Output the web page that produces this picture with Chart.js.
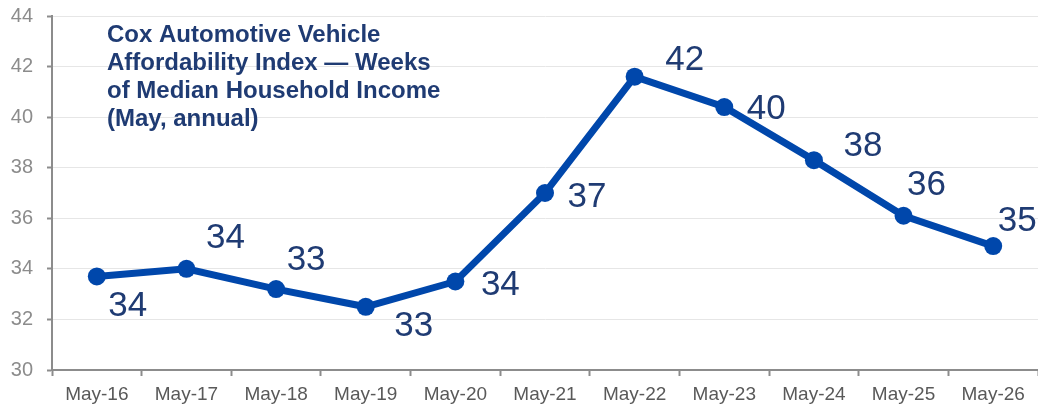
<!DOCTYPE html>
<html>
<head>
<meta charset="utf-8">
<script src="https://cdn.jsdelivr.net/npm/chart.js@4"></script>
<style>
  html, body { margin: 0; padding: 0; background: #ffffff; }
  #wrap { position: relative; width: 1038px; height: 404px; }
</style>
</head>
<body>
<div id="wrap"><canvas id="c"></canvas></div>
<script>
// ---- Data ----
const categories = ["May-16","May-17","May-18","May-19","May-20","May-21","May-22","May-23","May-24","May-25","May-26"];
const weeksValues = [33.7, 34.0, 33.2, 32.5, 33.5, 37.0, 41.6, 40.4, 38.3, 36.1, 34.9];
const valueLabels = ["34","34","33","33","34","37","42","40","38","36","35"];
const yTicks = [30, 32, 34, 36, 38, 40, 42, 44];
const titleLines = ["Cox Automotive Vehicle", "Affordability Index \u2014 Weeks", "of Median Household Income", "(May, annual)"];

// label placement relative to each point (style, not data)
const labelOffsets = [[31,27],[39,-33],[30,-32],[48,17],[45,1],[42,1],[50,-19],[42,-1],[49,-17],[23,-33],[24,-28]];

const navy = '#1F3B73';

const labelPlugin = {
  id: 'valueLabels',
  afterDatasetsDraw(chart) {
    const ctx = chart.ctx;
    const meta = chart.getDatasetMeta(0);
    ctx.save();
    ctx.font = '35px "Liberation Sans", Arial, sans-serif';
    ctx.fillStyle = navy;
    ctx.textAlign = 'center';
    ctx.textBaseline = 'alphabetic';
    meta.data.forEach((pt, i) => {
      const off = labelOffsets[i];
      ctx.fillText(valueLabels[i], pt.x + off[0], pt.y + off[1] + 12.5);
    });
    ctx.restore();
  }
};

const titlePlugin = {
  id: 'innerTitle',
  afterDraw(chart) {
    const ctx = chart.ctx;
    ctx.save();
    ctx.font = 'bold 24px "Liberation Sans", Arial, sans-serif';
    ctx.fillStyle = navy;
    ctx.textAlign = 'left';
    ctx.textBaseline = 'alphabetic';
    titleLines.forEach((line, i) => {
      ctx.fillText(line, 107, 42 + i * 28);
    });
    ctx.restore();
  }
};

new Chart(document.getElementById('c'), {
  type: 'line',
  data: {
    labels: categories,
    datasets: [{
      data: weeksValues,
      borderColor: '#0047AB',
      backgroundColor: '#0047AB',
      borderWidth: 7,
      pointRadius: 9,
      pointHoverRadius: 9,
      pointBorderWidth: 0,
      pointBackgroundColor: '#0047AB',
      tension: 0,
      fill: false,
      clip: false
    }]
  },
  options: {
    responsive: true,
    maintainAspectRatio: false,
    animation: false,
    layout: { autoPadding: false, padding: { top: 16, right: 0, left: 0, bottom: 0 } },
    plugins: {
      legend: { display: false },
      tooltip: { enabled: false },
      title: { display: false }
    },
    scales: {
      x: {
        type: 'category',
        offset: true,
        grid: {
          offset: true,
          drawOnChartArea: false,
          drawTicks: true,
          tickLength: 6,
          tickColor: '#8c8c8c',
          tickWidth: 2
        },
        border: { display: true, color: '#8c8c8c', width: 2 },
        ticks: {
          color: '#595959',
          font: { family: '"Liberation Sans", Arial, sans-serif', size: 19 },
          padding: 7,
          maxRotation: 0,
          autoSkip: false
        },
        afterFit(scale) { scale.height = 34; scale.paddingLeft = 0; scale.paddingRight = 0; }
      },
      y: {
        min: 30,
        max: 44,
        afterBuildTicks(scale) { scale.ticks = yTicks.map(v => ({ value: v })); },
        grid: {
          color: '#e6e6e6',
          lineWidth: 1,
          drawTicks: true,
          tickLength: 5,
          tickColor: '#8c8c8c',
          tickWidth: 2
        },
        border: { display: true, color: '#8c8c8c', width: 2 },
        ticks: {
          color: '#8c8c8c',
          font: { family: '"Liberation Sans", Arial, sans-serif', size: 20 },
          padding: 14
        },
        afterFit(scale) { scale.width = 52; scale.paddingTop = 0; scale.paddingBottom = 0; }
      }
    }
  },
  plugins: [labelPlugin, titlePlugin]
});
</script>
</body>
</html>
